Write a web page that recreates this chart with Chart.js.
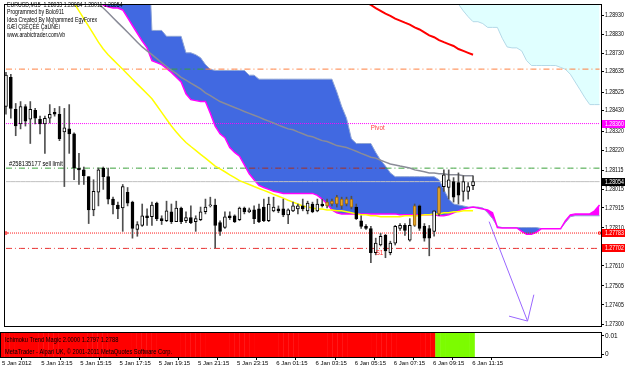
<!DOCTYPE html>
<html>
<head>
<meta charset="utf-8">
<script src="https://cdn.jsdelivr.net/npm/chart.js"></script>
<style>
  body { margin: 0; background: #fff; }
  #wrap { position: relative; width: 625px; height: 370px; overflow: hidden; }
  #mainChart { position: absolute; left: 0; top: 0; }
  #subChart { position: absolute; left: 0; top: 331px; }
</style>
</head>
<body>
<div id="wrap">
  <canvas id="mainChart" width="625" height="331"></canvas>
  <canvas id="subChart" width="625" height="39"></canvas>
</div>
<script>
// EURUSD M15, 5 Jan 11:15 .. 6 Jan 11:15 (97 bars), kumo shifted 26 bars ahead
var opens = [1.28450,1.28604,1.28435,1.28358,1.28450,1.28383,1.28430,1.28383,1.28358,1.28388,
  1.28419,1.28409,1.28316,1.28332,1.28306,1.28126,1.28116,1.28080,1.27905,1.27998,
  1.28126,1.28080,1.27962,1.27931,1.27915,1.27998,1.27946,1.27802,1.27823,1.27874,
  1.27869,1.27941,1.27859,1.27848,1.27895,1.27843,1.27915,1.27848,1.27864,1.27843,
  1.27854,1.27895,1.27926,1.27931,1.27838,1.27812,1.27874,1.27874,1.27854,1.27915,
  1.27895,1.27905,1.27910,1.27920,1.27848,1.27900,1.27910,1.27910,1.27879,1.27900,
  1.27910,1.27926,1.27900,1.27936,1.27900,1.27936,1.27926,1.27936,1.27936,1.27926,
  1.27936,1.27920,1.27920,1.27848,1.27818,1.27807,1.27679,1.27720,1.27771,1.27679,
  1.27730,1.27807,1.27823,1.27746,1.27823,1.27926,1.27818,1.27807,1.27792,1.27884,
  1.28028,1.28023,1.28054,1.28049,1.28003,1.28003,1.28033];
var highs = [1.28630,1.28620,1.28466,1.28476,1.28460,1.28476,1.28440,1.28399,1.28399,1.28460,
  1.28440,1.28450,1.28440,1.28460,1.28311,1.28203,1.28131,1.28080,1.28064,1.28126,
  1.28131,1.28126,1.27972,1.27946,1.28039,1.28023,1.27951,1.27843,1.27936,1.27910,
  1.27946,1.27946,1.27874,1.27951,1.27936,1.27951,1.27920,1.27895,1.27926,1.27874,
  1.27920,1.27962,1.27972,1.27962,1.27848,1.27895,1.27895,1.27879,1.27920,1.27920,
  1.27915,1.27926,1.27936,1.27962,1.27972,1.27972,1.27926,1.27962,1.27910,1.27946,
  1.27936,1.27962,1.27951,1.27946,1.27962,1.27962,1.27962,1.27962,1.27982,1.27972,
  1.27972,1.27977,1.27936,1.27874,1.27828,1.27818,1.27756,1.27782,1.27776,1.27740,
  1.27823,1.27833,1.27833,1.27859,1.27936,1.27931,1.27833,1.27823,1.27900,1.28028,
  1.28116,1.28116,1.28075,1.28100,1.28085,1.28049,1.28084];
var lows = [1.28409,1.28388,1.28296,1.28332,1.28347,1.28255,1.28358,1.28306,1.28203,1.28363,
  1.28399,1.28270,1.28028,1.28203,1.28064,1.28039,1.28039,1.27833,1.27874,1.27926,
  1.28013,1.27936,1.27884,1.27859,1.27792,1.27926,1.27756,1.27766,1.27818,1.27823,
  1.27823,1.27848,1.27828,1.27843,1.27833,1.27843,1.27833,1.27838,1.27833,1.27792,
  1.27848,1.27884,1.27920,1.27704,1.27771,1.27807,1.27854,1.27838,1.27848,1.27884,
  1.27890,1.27833,1.27838,1.27843,1.27843,1.27895,1.27890,1.27869,1.27833,1.27895,
  1.27884,1.27900,1.27884,1.27890,1.27895,1.27920,1.27915,1.27926,1.27920,1.27910,
  1.27926,1.27910,1.27854,1.27807,1.27802,1.27627,1.27668,1.27715,1.27653,1.27668,
  1.27720,1.27797,1.27771,1.27740,1.27818,1.27797,1.27740,1.27663,1.27766,1.27874,
  1.28003,1.27962,1.27946,1.27936,1.27951,1.27962,1.28011];
var closes = [1.28615,1.28440,1.28347,1.28450,1.28373,1.28435,1.28388,1.28358,1.28388,1.28409,
  1.28409,1.28280,1.28337,1.28306,1.28126,1.28116,1.28085,1.27905,1.28003,1.28116,
  1.28080,1.27962,1.27931,1.27910,1.28028,1.27941,1.27807,1.27828,1.27874,1.27864,
  1.27931,1.27859,1.27848,1.27900,1.27843,1.27915,1.27843,1.27864,1.27838,1.27859,
  1.27895,1.27920,1.27931,1.27823,1.27792,1.27869,1.27864,1.27843,1.27915,1.27895,
  1.27905,1.27859,1.27843,1.27848,1.27936,1.27920,1.27900,1.27879,1.27905,1.27926,
  1.27926,1.27910,1.27941,1.27895,1.27936,1.27926,1.27946,1.27951,1.27972,1.27962,
  1.27962,1.27962,1.27859,1.27818,1.27807,1.27679,1.27730,1.27766,1.27689,1.27730,
  1.27818,1.27823,1.27797,1.27823,1.27926,1.27807,1.27756,1.27756,1.27900,1.28023,
  1.28090,1.28064,1.27972,1.27982,1.28054,1.28028,1.28054];
// bars painted orange by the template
var orangeBars = [66, 67, 68, 69, 70, 71, 84, 89];

// Senkou spans, 97 bars + 26 shifted
var spanB = [1.29761,1.29761,1.29761,1.29761,1.29761,1.29761,1.29761,1.29761,1.29761,1.29761,
  1.29658,1.29658,1.29658,1.29658,1.29658,1.29658,1.29658,1.29658,1.29658,1.29658,
  1.29658,1.29658,1.29453,1.29453,1.29453,1.29453,1.29453,1.29453,1.29453,1.29453,
  1.28851,1.28851,1.28851,1.28820,1.28820,1.28820,1.28820,1.28733,1.28733,1.28723,
  1.28707,1.28671,1.28646,1.28640,1.28640,1.28640,1.28640,1.28640,1.28640,1.28640,
  1.28615,1.28615,1.28594,1.28594,1.28594,1.28594,1.28594,1.28594,1.28594,1.28594,
  1.28594,1.28594,1.28594,1.28594,1.28594,1.28594,1.28594,1.28594,1.28527,1.28450,
  1.28388,1.28280,1.28255,1.28255,1.28255,1.28255,1.28208,1.28167,1.28136,1.28100,
  1.28080,1.28080,1.28080,1.28080,1.28080,1.28080,1.28080,1.28080,1.28080,1.28064,
  1.28013,1.27962,1.27936,1.27931,1.27926,1.27920,1.27920,1.27920,1.27915,1.27890,
  1.27859,1.27818,1.27812,1.27812,1.27812,1.27812,1.27812,1.27812,1.27812,1.27812,
  1.27807,1.27807,1.27807,1.27807,1.27807,1.27838,1.27869,1.27874,1.27874,1.27874,
  1.27874,1.27874,1.27874];
var spanA = [1.29350,1.29335,1.29319,1.29304,1.29288,1.29273,1.29257,1.29242,1.29227,1.29211,
  1.29196,1.29180,1.29165,1.29149,1.29134,1.29119,1.29103,1.29083,1.29052,1.29016,
  1.28985,1.28975,1.28969,1.28969,1.28959,1.28918,1.28877,1.28836,1.28795,1.28759,
  1.28692,1.28681,1.28671,1.28651,1.28630,1.28604,1.28579,1.28517,1.28486,1.28481,
  1.28476,1.28476,1.28414,1.28347,1.28306,1.28286,1.28234,1.28208,1.28188,1.28142,
  1.28095,1.28064,1.28034,1.28023,1.28013,1.28003,1.27998,1.27992,1.27992,1.27992,
  1.27992,1.27992,1.27992,1.27992,1.27982,1.27962,1.27936,1.27905,1.27890,1.27884,
  1.27884,1.27884,1.27884,1.27884,1.27884,1.27884,1.27884,1.27884,1.27884,1.27884,
  1.27884,1.27879,1.27879,1.27879,1.27879,1.27879,1.27879,1.27879,1.27879,1.27874,
  1.27874,1.27879,1.27890,1.27900,1.27910,1.27915,1.27920,1.27915,1.27910,1.27905,
  1.27890,1.27812,1.27810,1.27810,1.27810,1.27810,1.27792,1.27776,1.27776,1.27787,
  1.27805,1.27805,1.27805,1.27805,1.27805,1.27848,1.27879,1.27884,1.27884,1.27884,
  1.27884,1.27900,1.27931];

var yellowMA = [1.29556,1.29514,1.29473,1.29432,1.29391,1.29350,1.29309,1.29268,1.29227,1.29185,
  1.29144,1.29108,1.29072,1.29036,1.28995,1.28954,1.28913,1.28872,1.28831,1.28789,
  1.28753,1.28723,1.28697,1.28671,1.28646,1.28620,1.28594,1.28568,1.28543,1.28517,
  1.28491,1.28455,1.28419,1.28383,1.28347,1.28316,1.28286,1.28260,1.28239,1.28219,
  1.28198,1.28178,1.28157,1.28136,1.28121,1.28106,1.28090,1.28075,1.28059,1.28049,
  1.28039,1.28028,1.28018,1.28008,1.27998,1.27987,1.27977,1.27967,1.27956,1.27946,
  1.27936,1.27926,1.27920,1.27915,1.27910,1.27910,1.27905,1.27905,1.27900,1.27900,
  1.27895,1.27890,1.27884,1.27879,1.27879,1.27874,1.27874,1.27869,1.27869,1.27869,
  1.27869,1.27869,1.27874,1.27874,1.27874,1.27874,1.27879,1.27879,1.27884,1.27884,
  1.27890,1.27890,1.27895,1.27895,1.27900,1.27900,1.27900];
var grayMA = [1.29478,1.29453,1.29427,1.29401,1.29376,1.29350,1.29324,1.29299,1.29273,1.29247,
  1.29221,1.29196,1.29170,1.29144,1.29119,1.29093,1.29067,1.29041,1.29016,1.28990,
  1.28969,1.28944,1.28918,1.28892,1.28867,1.28841,1.28815,1.28789,1.28764,1.28743,
  1.28723,1.28702,1.28681,1.28661,1.28640,1.28625,1.28604,1.28589,1.28573,1.28558,
  1.28543,1.28522,1.28507,1.28491,1.28476,1.28466,1.28455,1.28445,1.28435,1.28424,
  1.28414,1.28404,1.28394,1.28383,1.28373,1.28363,1.28352,1.28342,1.28332,1.28327,
  1.28316,1.28306,1.28296,1.28291,1.28280,1.28270,1.28265,1.28255,1.28244,1.28239,
  1.28234,1.28224,1.28214,1.28203,1.28193,1.28183,1.28178,1.28167,1.28157,1.28147,
  1.28142,1.28136,1.28131,1.28126,1.28116,1.28111,1.28106,1.28100,1.28100,1.28095,
  1.28095,1.28090,1.28090,1.28090,1.28085,1.28085,1.28085];
var redStart = 74;
var redMA = [1.29000,1.28985,1.28969,1.28954,1.28939,1.28928,1.28913,1.28903,1.28892,1.28882,
  1.28867,1.28856,1.28841,1.28825,1.28815,1.28800,1.28789,1.28779,1.28769,1.28753,
  1.28743,1.28733,1.28723];
// lower edge of the light cloud in the top right corner
var cyanStart = 92;
var cyanEdge = [1.29031,1.28990,1.28954,1.28923,1.28897,1.28897,1.28887,1.28867,1.28867,1.28867,
  1.28810,1.28764,1.28759,1.28759,1.28743,1.28692,1.28666,1.28666,1.28666,1.28666,
  1.28666,1.28666,1.28656,1.28646,1.28620,1.28579,1.28538,1.28496,1.28460,1.28460,
  1.28460];

// horizontal levels
var r1Level = 1.28647;
var pivotLevel = 1.28360;
var sellLimit = 1.28125;
var bidLevel = 1.28054;
var redDotLevel = 1.27783;
var s1Level = 1.27702;

// trend magic: -1 red, 1 green
var trendMagic = [-1,-1,-1,-1,-1,-1,-1,-1,-1,-1, -1,-1,-1,-1,-1,-1,-1,-1,-1,-1,
  -1,-1,-1,-1,-1,-1,-1,-1,-1,-1, -1,-1,-1,-1,-1,-1,-1,-1,-1,-1,
  -1,-1,-1,-1,-1,-1,-1,-1,-1,-1, -1,-1,-1,-1,-1,-1,-1,-1,-1,-1,
  -1,-1,-1,-1,-1,-1,-1,-1,-1,-1, -1,-1,-1,-1,-1,-1,-1,-1,-1,-1,
  -1,-1,-1,-1,-1,-1,-1,-1,-1,1, 1,1,1,1,1,1,1];

// projected arrow (trend line object)
var arrowShaft = [[99.3, 1.27843], [107.2, 1.27319], [103.4, 1.27345]];
var arrowWing = [[107.2, 1.27319], [108.5, 1.27458]];

var priceTicks = [1.28930,1.28830,1.28730,1.28635,1.28525,1.28430,1.28320,1.28220,1.28115,
  1.28015,1.27915,1.27810,1.27710,1.27610,1.27505,1.27405,1.27300];
var timeTickBars = [0, 8, 16, 24, 32, 40, 48, 56, 64, 72, 80, 88, 96];
var timeLabels = ['5 Jan 2012','5 Jan 13:15','5 Jan 15:15','5 Jan 17:15','5 Jan 19:15','5 Jan 21:15',
  '5 Jan 23:15','6 Jan 01:15','6 Jan 03:15','6 Jan 05:15','6 Jan 07:15','6 Jan 09:15','6 Jan 11:15'];

var headerLines = ['EURUSD,M15  1.28033 1.28084 1.28011 1.28054', 'Programmed by Bolo911',
  'Idea Created By Mohammed EgyForex', 'ßÆÏ ÇßÊÇÈÉ ÇáÚÑÈí', 'www.arabictrader.com/vb'];

var xMin = -0.2, xMax = 122.3;
var yMin = 1.27293, yMax = 1.28985;

Chart.defaults.font.family = '"Liberation Sans", Arial, sans-serif';
Chart.defaults.font.size = 6.5;
Chart.defaults.color = '#000';

var allIdx = spanA.map(function (v, i) { return i; });
function pts(arr, start) {
  return arr.map(function (v, k) { return { x: (start || 0) + k, y: v }; });
}
function flat(v) {
  return allIdx.map(function (i) { return { x: i, y: v }; });
}
function inCloud(v, i) {
  return Math.min(spanA[i], spanB[i]) <= v && v <= Math.max(spanA[i], spanB[i]);
}
// MT4 paints the dotted levels in another colour where they cross the kumo
function levelLine(v, color, dash, insideColor) {
  return {
    type: 'line', data: flat(v), borderColor: color, borderWidth: 1, borderDash: dash,
    pointRadius: 0, order: 6,
    segment: insideColor ? {
      borderColor: function (c) {
        return inCloud(v, c.p0DataIndex) && inCloud(v, c.p1DataIndex) ? insideColor : undefined;
      }
    } : {}
  };
}
function tinyText(ctx, str, px, py, color, size, squeeze) {
  ctx.save();
  ctx.font = size + 'px "Liberation Sans"';
  ctx.fillStyle = color;
  ctx.textBaseline = 'middle';
  ctx.translate(px, py);
  ctx.scale(squeeze, 1);
  ctx.fillText(str, 0, 0);
  ctx.restore();
}

var dashDot = [6, 3, 1, 3];
var lastIdx = allIdx.length - 1;
var redDots = levelLine(redDotLevel, '#ff1010', [1, 1]);
redDots.pointRadius = function (c) { return c.dataIndex === 0 || c.dataIndex === lastIdx ? 1.5 : 0; };
redDots.pointStyle = 'rect';
redDots.pointBackgroundColor = '#fff';
redDots.pointBorderColor = '#ff1010';

var mainDecor = {
  id: 'mainDecor',
  afterDraw: function (chart) {
    var ctx = chart.ctx, a = chart.chartArea, x = chart.scales.x, y = chart.scales.y;
    ctx.save();
    ctx.strokeStyle = '#000';
    ctx.lineWidth = 1;
    ctx.strokeRect(a.left - 0.5, a.top - 0.5, a.right - a.left + 1, a.bottom - a.top + 1);
    ctx.restore();

    headerLines.forEach(function (t, k) {
      tinyText(ctx, t, a.left + 2, 5 + k * 7.5, '#000', 6.5, 0.8);
    });
    tinyText(ctx, '#258135177 sell limit', a.left + 4, y.getPixelForValue(sellLimit) - 4, '#000', 6.5, 0.88);
    tinyText(ctx, 'Pivot', x.getPixelForValue(75), y.getPixelForValue(pivotLevel) + 5, '#ff3c3c', 6.5, 0.95);
    tinyText(ctx, 'S1', x.getPixelForValue(76), y.getPixelForValue(s1Level) + 5, '#ff2020', 6.5, 0.95);

    // price scale labels, narrow like the terminal font
    priceTicks.forEach(function (v) {
      tinyText(ctx, v.toFixed(5), a.right + 4, y.getPixelForValue(v), '#000', 6.5, 0.8);
    });
    // coloured price tags on the scale
    [[pivotLevel, '#ff00ff'], [bidLevel, '#000'], [redDotLevel, '#ff0000'], [s1Level, '#ff0000']].forEach(function (p) {
      var py = Math.round(y.getPixelForValue(p[0]));
      ctx.fillStyle = p[1];
      ctx.fillRect(a.right + 1, py - 4, 24, 8);
      tinyText(ctx, p[0].toFixed(5), a.right + 4, py, '#fff', 6.5, 0.8);
    });
  }
};

new Chart(document.getElementById('mainChart'), {
  type: 'bar',
  data: {
    datasets: [
      { type: 'line', data: pts(cyanEdge, cyanStart), borderColor: '#b4d9e8', borderWidth: 1,
        backgroundColor: '#e0ffff', fill: 'end', pointRadius: 0, order: 9 },
      { type: 'line', data: pts(spanB), borderColor: '#8fa5d6', borderWidth: 1, pointRadius: 0,
        fill: { target: 2, above: '#4169e1', below: '#ff00ff' }, order: 8 },
      { type: 'line', data: pts(spanA), borderColor: '#ff00ff', borderWidth: 1.5, pointRadius: 0, order: 7 },
      levelLine(r1Level, '#ff7f3f', dashDot, '#3aa03a'),
      levelLine(pivotLevel, '#ff00ff', [1, 1]),
      levelLine(sellLimit, '#3aa03a', dashDot, '#a83020'),
      levelLine(bidLevel, '#c0c0c0', []),
      redDots,
      levelLine(s1Level, '#e83030', dashDot),
      { type: 'line', data: pts(yellowMA), borderColor: '#ffff00', borderWidth: 1.5, pointRadius: 0, order: 5 },
      { type: 'line', data: pts(grayMA), borderColor: '#8a8c98', borderWidth: 1.5, pointRadius: 0, order: 5 },
      { type: 'line', data: pts(redMA, redStart), borderColor: '#ff0000', borderWidth: 2, pointRadius: 0, order: 5 },
      { type: 'bar', data: opens.map(function (o, i) { return { x: i, y: [lows[i], highs[i]] }; }),
        backgroundColor: '#505050', barThickness: 1, grouped: false, order: 3 },
      { type: 'bar', data: opens.map(function (o, i) { return { x: i, y: [o, closes[i]] }; }),
        backgroundColor: function (c) {
          var i = c.dataIndex;
          if (orangeBars.indexOf(i) >= 0) return '#e9a92a';
          return closes[i] >= opens[i] ? '#fff' : '#000';
        },
        borderColor: function (c) { return orangeBars.indexOf(c.dataIndex) >= 0 ? '#a06a10' : '#000'; },
        borderWidth: 1, borderSkipped: false, barThickness: 3, minBarLength: 1, grouped: false, order: 2 },
      { type: 'line', data: arrowShaft.map(function (p) { return { x: p[0], y: p[1] }; }),
        borderColor: '#9966ff', borderWidth: 1, pointRadius: 0, order: 1 },
      { type: 'line', data: arrowWing.map(function (p) { return { x: p[0], y: p[1] }; }),
        borderColor: '#9966ff', borderWidth: 1, pointRadius: 0, order: 1 }
    ]
  },
  options: {
    responsive: false, animation: false, events: [],
    layout: { padding: { left: 1, top: 1, right: 0, bottom: 1 } },
    plugins: { legend: { display: false }, tooltip: { enabled: false } },
    scales: {
      x: { type: 'linear', display: false, min: xMin, max: xMax, offset: false },
      y: {
        position: 'right', min: yMin, max: yMax,
        afterBuildTicks: function (s) { s.ticks = priceTicks.map(function (v) { return { value: v }; }); },
        afterFit: function (s) { s.width = 24; s.paddingTop = 0; s.paddingBottom = 0; },
        grid: { drawOnChartArea: false, tickLength: 3, color: '#000' },
        border: { display: false },
        ticks: { display: false, autoSkip: false }
      }
    }
  },
  plugins: [mainDecor]
});

var subDecor = {
  id: 'subDecor',
  afterDraw: function (chart) {
    var ctx = chart.ctx, a = chart.chartArea;
    ctx.save();
    ctx.strokeStyle = '#000';
    ctx.lineWidth = 1;
    ctx.strokeRect(a.left - 0.5, a.top - 0.5, a.right - a.left + 1, a.bottom - a.top + 1);
    ctx.restore();
    tinyText(ctx, 'Ichimoku Trend Magic 2.0000 1.2797 1.2788', a.left + 4, a.top + 7, '#000', 6.5, 0.88);
    tinyText(ctx, 'MetaTrader - Alpari UK, \u00a9 2001-2011 MetaQuotes Software Corp.', a.left + 4, a.top + 19, '#000', 6.5, 0.88);
  }
};

new Chart(document.getElementById('subChart'), {
  type: 'bar',
  data: {
    datasets: [{
      data: trendMagic.map(function (v, i) { return { x: i, y: [0, 1] }; }),
      backgroundColor: function (c) { return trendMagic[c.dataIndex] > 0 ? '#7cfc00' : '#ff0000'; },
      borderWidth: 0, barPercentage: 1.08, categoryPercentage: 1, yAxisID: 'h'
    }]
  },
  options: {
    responsive: false, animation: false, events: [],
    layout: { padding: { left: 1, top: 2, right: 0, bottom: 0 } },
    plugins: { legend: { display: false }, tooltip: { enabled: false } },
    scales: {
      x: {
        type: 'linear', min: xMin, max: xMax, offset: false, position: 'bottom',
        afterBuildTicks: function (s) { s.ticks = timeTickBars.map(function (v) { return { value: v }; }); },
        afterFit: function (s) { s.height = 13; s.paddingLeft = 0; s.paddingRight = 0; },
        grid: { drawOnChartArea: false, tickLength: 3, color: '#000' },
        border: { display: false },
        ticks: { align: 'start', padding: 0, maxRotation: 0, autoSkip: false, font: { size: 6 },
          callback: function (v) { return timeLabels[timeTickBars.indexOf(v)]; } }
      },
      y: {
        position: 'right', min: -0.0015, max: 0.0115,
        afterBuildTicks: function (s) { s.ticks = [{ value: 0 }, { value: 0.01 }]; },
        afterFit: function (s) { s.width = 24; s.paddingTop = 0; s.paddingBottom = 0; },
        grid: { drawOnChartArea: false, tickLength: 3, color: '#000' },
        border: { display: false },
        ticks: { padding: 1, callback: function (v) { return v === 0 ? '0' : '0.01'; } }
      },
      h: { axis: 'y', display: false, min: 0, max: 1 }
    }
  },
  plugins: [subDecor]
});
</script>
</body>
</html>
